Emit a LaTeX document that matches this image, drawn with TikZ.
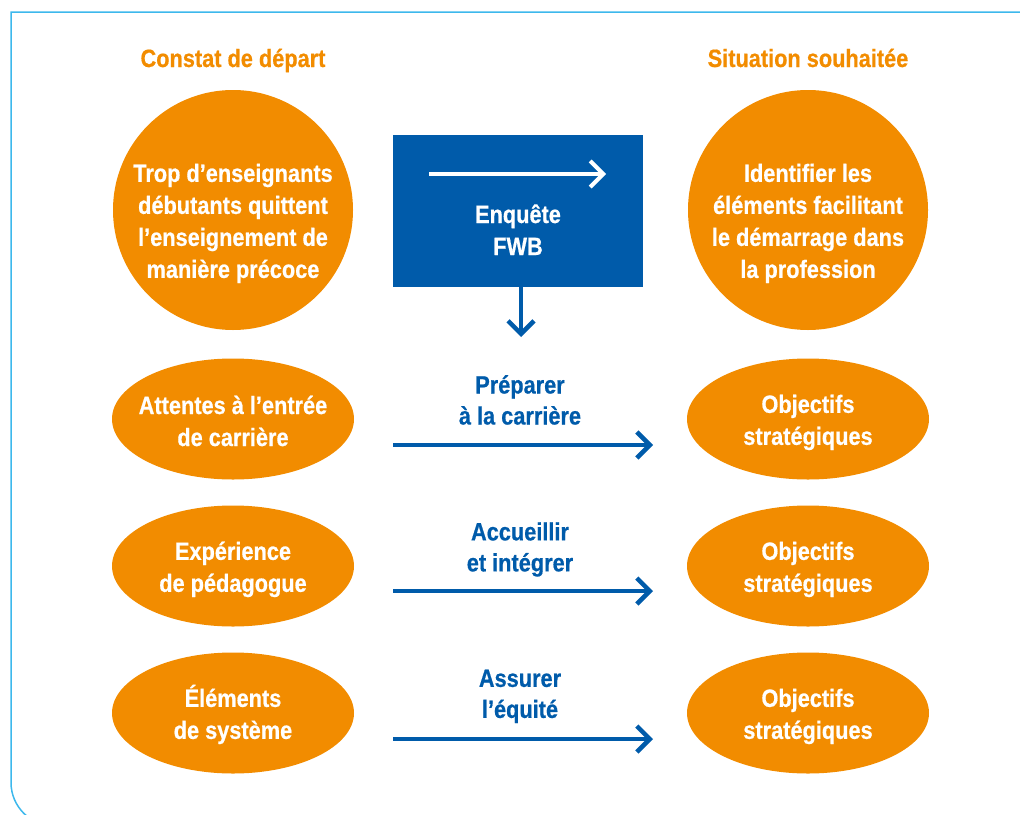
\documentclass[tikz,border=0pt]{standalone}
\usepackage{fontspec}
\setmainfont{Liberation Sans}[FakeStretch=0.87, BoldFeatures={FakeBold=0.6}]
\usetikzlibrary{shapes.geometric,arrows.meta}
\definecolor{orng}{RGB}{242,140,0}
\definecolor{fblue}{RGB}{0,91,170}
\definecolor{framecol}{RGB}{61,184,236}
\newcommand\lnstrut{\rule[-3pt]{0pt}{28pt}}
\begin{document}
\begin{tikzpicture}[x=1pt,y=-1pt,
  txt/.style={font=\fontsize{25}{32}\selectfont\bfseries, align=center, text=white, inner sep=0pt},
  bigcirc/.style={circle, fill=orng, minimum size=240pt, inner sep=0pt},
  oval/.style={ellipse, fill=orng, minimum width=242pt, minimum height=121pt, txt, inner xsep=-40pt, inner ysep=0pt},
  title/.style={font=\fontsize{25}{30}\selectfont\bfseries, text=orng, anchor=base, inner sep=0pt},
  lbl/.style={font=\fontsize{25}{31}\selectfont\bfseries, text=fblue, inner sep=0pt, align=center},
  arr/.style={line width=4.5pt, draw=fblue, -{Straight Barb[length=13pt,width=26pt]}},
  warr/.style={line width=4pt, draw=white, -{Straight Barb[length=13pt,width=26pt]}},
  box/.style={rectangle, fill=fblue, minimum width=250pt, minimum height=152pt, inner sep=0pt},
]
\useasboundingbox (0,0) rectangle (1020,814);
\begin{scope}
\clip (0,0) rectangle (1020,814);
\draw[framecol, line width=1.5pt] (1030,12) -- (11,12) -- (11,782.5)
  .. controls (11,806.5) and (30.5,826) .. (54.5,826) -- (1030,826);
\end{scope}

% titles
\node[title] (t1) at (233,67) {Constat de départ};
\node[title] (t2) at (808,67) {Situation souhaitée};

% top circles
\node[bigcirc] (c1) at (233,210) {};
\node[txt] (c1t) at (233,220) {\lnstrut Trop d’enseignants\\\lnstrut débutants quittent\\\lnstrut l’enseignement de\\\lnstrut manière précoce};
\node[bigcirc] (c2) at (808,210) {};
\node[txt] (c2t) at (808,220) {\lnstrut Identifier les\\\lnstrut éléments facilitant\\\lnstrut le démarrage dans\\\lnstrut la profession};

% survey box
\node[box] (b) at (518,211) {};
\node[txt] (bt) at (518,228) {\lnstrut Enquête\\\lnstrut FWB};
\coordinate (w1) at (429,174);
\coordinate (w2) at (606,174);
\draw[warr] (w1) -- (w2);
\coordinate (d2) at (521,337);
\draw[arr] (b.south -| d2) -- (d2);

% left ovals
\node[oval] (l1) at (233,419) {\lnstrut Attentes à l’entrée\\\lnstrut de carrière};
\node[oval] (l2) at (233,566) {\lnstrut Expérience\\\lnstrut de pédagogue};
\node[oval] (l3) at (233,713) {\lnstrut Éléments\\\lnstrut de système};

% right ovals
\node[oval] (r1) at (808,419) {\lnstrut Objectifs\\\lnstrut stratégiques};
\node[oval] (r2) at (808,566) {\lnstrut Objectifs\\\lnstrut stratégiques};
\node[oval] (r3) at (808,713) {\lnstrut Objectifs\\\lnstrut stratégiques};

% arrows and labels
\coordinate (a1s) at (393,445); \coordinate (a1e) at (653,445);
\coordinate (a2s) at (393,591); \coordinate (a2e) at (653,591);
\coordinate (a3s) at (393,739); \coordinate (a3e) at (653,739);
\draw[arr] (a1s) -- (a1e);
\draw[arr] (a2s) -- (a2e);
\draw[arr] (a3s) -- (a3e);
\node[lbl] (m1) at (520,398) {\lnstrut Préparer\\\lnstrut à la carrière};
\node[lbl] (m2) at (520,546) {\lnstrut Accueillir\\\lnstrut et intégrer};
\node[lbl] (m3) at (520,692.5) {\lnstrut Assurer\\\lnstrut l’équité};
\end{tikzpicture}
\end{document}
